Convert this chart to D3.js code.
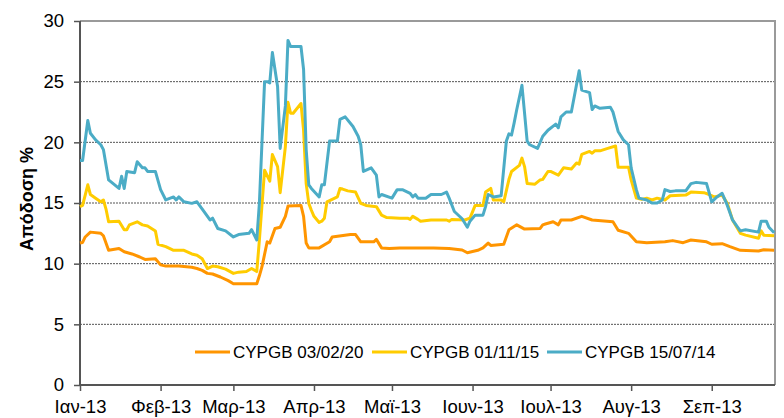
<!DOCTYPE html>
<html>
<head>
<meta charset="utf-8">
<script src="https://cdn.jsdelivr.net/npm/d3@7"></script>
<style>
  body { margin: 0; background: #fff; }
  text { font-family: "Liberation Sans", Arial, sans-serif; fill: #000; }
</style>
</head>
<body>
<svg></svg>
<script>
// series names + colours (legend order)
const seriesNames = ["CYPGB 03/02/20", "CYPGB 01/11/15", "CYPGB 15/07/14"];
const seriesColors = ["#ff9500", "#ffcc00", "#4bacc6"];

// x tick labels (one per month start)
const monthLabels = ["Ιαν-13", "Φεβ-13", "Μαρ-13", "Απρ-13", "Μαϊ-13", "Ιουν-13", "Ιουλ-13", "Αυγ-13", "Σεπ-13"];
const yTicks = [0, 5, 10, 15, 20, 25, 30];

// yields
const bond2020 = [
  ["2013-01-01", 11.7], ["2013-01-02", 11.75], ["2013-01-03", 12.2], ["2013-01-05", 12.6], ["2013-01-09", 12.5],
  ["2013-01-10", 12.3], ["2013-01-12", 11.1], ["2013-01-16", 11.25], ["2013-01-18", 10.98], ["2013-01-21", 10.8],
  ["2013-01-24", 10.55], ["2013-01-26", 10.35], ["2013-01-30", 10.4], ["2013-02-01", 9.9], ["2013-02-03", 9.8],
  ["2013-02-08", 9.8], ["2013-02-13", 9.7], ["2013-02-15", 9.6], ["2013-02-17", 9.45], ["2013-02-19", 9.2],
  ["2013-02-21", 9.15], ["2013-02-24", 8.9], ["2013-02-27", 8.6], ["2013-03-01", 8.35], ["2013-03-07", 8.35],
  ["2013-03-10", 8.35], ["2013-03-11", 9.0], ["2013-03-12", 9.75], ["2013-03-14", 11.8], ["2013-03-15", 11.7],
  ["2013-03-17", 12.9], ["2013-03-19", 13.0], ["2013-03-21", 13.9], ["2013-03-22", 14.75], ["2013-03-27", 14.8],
  ["2013-03-28", 13.9], ["2013-03-29", 11.7], ["2013-03-30", 11.3], ["2013-04-03", 11.3], ["2013-04-07", 11.8],
  ["2013-04-08", 12.2], ["2013-04-15", 12.4], ["2013-04-17", 12.4], ["2013-04-19", 11.8], ["2013-04-24", 11.8],
  ["2013-04-25", 12.0], ["2013-04-27", 11.3], ["2013-04-30", 11.25], ["2013-05-04", 11.3], ["2013-05-17", 11.3],
  ["2013-05-23", 11.25], ["2013-05-28", 11.13], ["2013-05-30", 10.9], ["2013-06-03", 11.1], ["2013-06-05", 11.3],
  ["2013-06-07", 11.7], ["2013-06-08", 11.5], ["2013-06-13", 11.6], ["2013-06-15", 12.8], ["2013-06-18", 13.2],
  ["2013-06-21", 12.85], ["2013-06-27", 12.9], ["2013-06-28", 13.2], ["2013-06-29", 13.27], ["2013-07-02", 13.45],
  ["2013-07-04", 13.2], ["2013-07-05", 13.6], ["2013-07-09", 13.6], ["2013-07-13", 13.9], ["2013-07-17", 13.6],
  ["2013-07-25", 13.45], ["2013-07-27", 12.75], ["2013-07-31", 12.5], ["2013-08-03", 11.8], ["2013-08-07", 11.73],
  ["2013-08-14", 11.8], ["2013-08-17", 11.9], ["2013-08-21", 11.73], ["2013-08-24", 11.95], ["2013-08-30", 11.8],
  ["2013-09-01", 11.6], ["2013-09-05", 11.65], ["2013-09-08", 11.4], ["2013-09-12", 11.1], ["2013-09-19", 11.05],
  ["2013-09-21", 11.15], ["2013-09-25", 11.1]
];

const bond2015 = [
  ["2013-01-01", 14.7], ["2013-01-02", 14.8], ["2013-01-04", 16.5], ["2013-01-05", 15.7], ["2013-01-07", 15.4],
  ["2013-01-09", 15.1], ["2013-01-10", 15.25], ["2013-01-11", 14.5], ["2013-01-12", 13.45], ["2013-01-16", 13.5],
  ["2013-01-18", 12.8], ["2013-01-19", 12.8], ["2013-01-20", 13.2], ["2013-01-23", 13.45], ["2013-01-25", 13.2],
  ["2013-01-27", 13.1], ["2013-01-30", 12.7], ["2013-01-31", 11.6], ["2013-02-03", 11.4], ["2013-02-06", 11.1],
  ["2013-02-10", 11.1], ["2013-02-13", 10.8], ["2013-02-15", 10.7], ["2013-02-17", 10.4], ["2013-02-19", 9.6],
  ["2013-02-21", 9.8], ["2013-02-23", 9.75], ["2013-02-26", 9.55], ["2013-03-01", 9.2], ["2013-03-03", 9.3],
  ["2013-03-06", 9.35], ["2013-03-08", 9.6], ["2013-03-10", 9.35], ["2013-03-11", 11.95], ["2013-03-13", 17.7],
  ["2013-03-15", 16.8], ["2013-03-16", 19.0], ["2013-03-18", 18.0], ["2013-03-19", 15.85], ["2013-03-21", 19.65],
  ["2013-03-22", 23.3], ["2013-03-23", 22.4], ["2013-03-24", 22.4], ["2013-03-27", 23.2], ["2013-03-28", 21.0],
  ["2013-03-29", 16.6], ["2013-03-30", 14.97], ["2013-03-31", 14.4], ["2013-04-01", 13.9], ["2013-04-03", 13.4],
  ["2013-04-04", 13.5], ["2013-04-05", 13.75], ["2013-04-06", 15.1], ["2013-04-09", 15.4], ["2013-04-10", 15.5],
  ["2013-04-11", 16.2], ["2013-04-12", 16.15], ["2013-04-14", 16.0], ["2013-04-17", 15.9], ["2013-04-19", 14.97],
  ["2013-04-21", 14.8], ["2013-04-25", 14.7], ["2013-04-27", 14.0], ["2013-04-29", 13.8], ["2013-05-04", 13.75],
  ["2013-05-07", 13.75], ["2013-05-08", 13.65], ["2013-05-09", 13.9], ["2013-05-11", 13.65], ["2013-05-12", 13.5],
  ["2013-05-16", 13.6], ["2013-05-22", 13.6], ["2013-05-23", 13.5], ["2013-05-24", 13.65], ["2013-05-29", 13.6],
  ["2013-05-31", 13.75], ["2013-06-02", 14.8], ["2013-06-05", 14.8], ["2013-06-06", 15.9], ["2013-06-08", 16.2],
  ["2013-06-09", 15.25], ["2013-06-12", 15.25], ["2013-06-13", 15.1], ["2013-06-15", 16.95], ["2013-06-16", 17.6],
  ["2013-06-19", 18.1], ["2013-06-20", 18.7], ["2013-06-21", 18.0], ["2013-06-22", 16.6], ["2013-06-25", 16.55],
  ["2013-06-27", 16.9], ["2013-06-28", 16.95], ["2013-06-30", 17.6], ["2013-07-01", 17.6], ["2013-07-04", 17.3],
  ["2013-07-06", 17.9], ["2013-07-09", 17.8], ["2013-07-11", 18.3], ["2013-07-12", 18.2], ["2013-07-13", 19.0],
  ["2013-07-16", 19.25], ["2013-07-17", 19.1], ["2013-07-18", 19.3], ["2013-07-20", 19.3], ["2013-07-23", 19.5],
  ["2013-07-26", 19.7], ["2013-07-27", 17.95], ["2013-07-31", 17.95], ["2013-08-01", 16.9], ["2013-08-03", 15.4],
  ["2013-08-05", 15.3], ["2013-08-07", 15.4], ["2013-08-09", 15.25], ["2013-08-11", 15.4], ["2013-08-14", 15.25],
  ["2013-08-16", 15.6], ["2013-08-22", 15.65], ["2013-08-24", 15.9], ["2013-08-29", 15.85], ["2013-08-31", 15.7],
  ["2013-09-02", 15.5], ["2013-09-05", 15.65], ["2013-09-07", 14.97], ["2013-09-09", 13.6], ["2013-09-12", 12.5],
  ["2013-09-14", 12.35], ["2013-09-19", 12.1], ["2013-09-20", 12.7], ["2013-09-21", 12.35], ["2013-09-25", 12.3]
];

const bond2014 = [
  ["2013-01-01", 18.5], ["2013-01-02", 18.5], ["2013-01-04", 21.8], ["2013-01-05", 20.75], ["2013-01-07", 20.2],
  ["2013-01-09", 19.8], ["2013-01-10", 19.4], ["2013-01-12", 16.9], ["2013-01-16", 16.2], ["2013-01-17", 17.2],
  ["2013-01-18", 16.2], ["2013-01-19", 17.6], ["2013-01-22", 17.5], ["2013-01-23", 18.4], ["2013-01-25", 17.9],
  ["2013-01-26", 17.9], ["2013-01-27", 17.6], ["2013-01-30", 17.6], ["2013-02-01", 16.1], ["2013-02-03", 15.25],
  ["2013-02-06", 15.5], ["2013-02-07", 15.25], ["2013-02-08", 15.5], ["2013-02-10", 15.1], ["2013-02-13", 14.97],
  ["2013-02-15", 15.1], ["2013-02-18", 14.2], ["2013-02-20", 13.6], ["2013-02-21", 13.75], ["2013-02-23", 12.9],
  ["2013-02-26", 12.7], ["2013-03-01", 12.2], ["2013-03-03", 12.4], ["2013-03-07", 12.5], ["2013-03-08", 12.8],
  ["2013-03-10", 11.95], ["2013-03-11", 15.0], ["2013-03-13", 25.0], ["2013-03-14", 25.0], ["2013-03-15", 24.9],
  ["2013-03-16", 27.4], ["2013-03-18", 24.6], ["2013-03-19", 19.5], ["2013-03-21", 23.0], ["2013-03-22", 28.4],
  ["2013-03-23", 27.9], ["2013-03-27", 27.9], ["2013-03-28", 26.0], ["2013-03-29", 19.4], ["2013-03-30", 16.5],
  ["2013-03-31", 16.2], ["2013-04-03", 15.5], ["2013-04-04", 16.5], ["2013-04-05", 16.5], ["2013-04-07", 20.1],
  ["2013-04-10", 20.1], ["2013-04-11", 21.9], ["2013-04-13", 22.1], ["2013-04-16", 21.3], ["2013-04-18", 20.5],
  ["2013-04-19", 19.8], ["2013-04-20", 17.6], ["2013-04-23", 17.9], ["2013-04-25", 17.3], ["2013-04-26", 15.5],
  ["2013-04-27", 15.7], ["2013-05-01", 15.4], ["2013-05-03", 16.1], ["2013-05-05", 16.1], ["2013-05-08", 15.8],
  ["2013-05-09", 15.5], ["2013-05-10", 15.7], ["2013-05-11", 15.4], ["2013-05-14", 15.4], ["2013-05-16", 15.7],
  ["2013-05-18", 15.7], ["2013-05-20", 15.7], ["2013-05-22", 15.9], ["2013-05-23", 15.4], ["2013-05-25", 14.3],
  ["2013-05-28", 13.7], ["2013-05-30", 13.0], ["2013-05-31", 13.5], ["2013-06-02", 14.0], ["2013-06-05", 14.0],
  ["2013-06-06", 14.7], ["2013-06-07", 15.7], ["2013-06-09", 15.5], ["2013-06-12", 15.6], ["2013-06-14", 20.1],
  ["2013-06-15", 20.7], ["2013-06-16", 20.6], ["2013-06-17", 21.6], ["2013-06-18", 22.7], ["2013-06-20", 24.7],
  ["2013-06-21", 22.4], ["2013-06-22", 20.1], ["2013-06-23", 19.8], ["2013-06-26", 19.5], ["2013-06-28", 20.5],
  ["2013-06-30", 21.0], ["2013-07-03", 21.5], ["2013-07-04", 21.2], ["2013-07-05", 22.1], ["2013-07-07", 22.5],
  ["2013-07-09", 22.5], ["2013-07-12", 25.9], ["2013-07-13", 24.3], ["2013-07-16", 24.1], ["2013-07-17", 22.7],
  ["2013-07-18", 23.0], ["2013-07-20", 22.8], ["2013-07-24", 22.9], ["2013-07-25", 22.5], ["2013-07-27", 20.9],
  ["2013-07-29", 20.2], ["2013-07-31", 19.8], ["2013-08-01", 17.9], ["2013-08-03", 16.1], ["2013-08-04", 15.4],
  ["2013-08-07", 15.25], ["2013-08-09", 15.0], ["2013-08-11", 15.0], ["2013-08-13", 15.25], ["2013-08-14", 16.1],
  ["2013-08-16", 15.95], ["2013-08-18", 16.0], ["2013-08-22", 16.0], ["2013-08-24", 16.6], ["2013-08-26", 16.7],
  ["2013-08-30", 16.6], ["2013-09-01", 15.1], ["2013-09-03", 15.5], ["2013-09-05", 15.8], ["2013-09-07", 14.8],
  ["2013-09-09", 13.6], ["2013-09-11", 13.0], ["2013-09-12", 12.7], ["2013-09-14", 12.8], ["2013-09-19", 12.6],
  ["2013-09-20", 13.5], ["2013-09-22", 13.5], ["2013-09-23", 13.0], ["2013-09-25", 12.55]
];

const width = 784, height = 418;
const plot = { left: 80, right: 775, top: 21, bottom: 385 };
const parse = d3.timeParse("%Y-%m-%d");

const svg = d3.select("svg")
    .attr("width", width)
    .attr("height", height);

const x = d3.scaleTime()
    .domain([parse("2013-01-01"), new Date(2013, 8, 25, 8)])
    .range([plot.left, plot.right]);

const y = d3.scaleLinear()
    .domain([0, 30])
    .range([plot.bottom, plot.top]);

// dotted gridlines
svg.append("g")
    .selectAll("line")
    .data(yTicks.filter(t => t > 0 && t < 30))
    .enter().append("line")
    .attr("x1", plot.left).attr("x2", plot.right)
    .attr("y1", d => y(d)).attr("y2", d => y(d))
    .attr("stroke", "#555")
    .attr("stroke-width", 1)
    .attr("stroke-dasharray", "2,1");

// top + right frame
svg.append("path")
    .attr("d", `M${plot.left},${y(30)}H${plot.right}V${plot.bottom}`)
    .attr("fill", "none")
    .attr("stroke", "#9a9a9a")
    .attr("stroke-width", 2);

// y axis
const yAxis = svg.append("g")
    .attr("transform", `translate(${plot.left},0)`)
    .call(d3.axisLeft(y).tickValues(yTicks).tickSize(6).tickPadding(10));
yAxis.selectAll("text").style("font-size", "18.5px").attr("fill", "#000");

// x axis
const monthStarts = d3.timeMonth.range(parse("2013-01-01"), parse("2013-09-02"));
const xAxis = svg.append("g")
    .attr("transform", `translate(0,${plot.bottom})`)
    .call(d3.axisBottom(x).tickValues(monthStarts).tickSize(6).tickPadding(9)
        .tickFormat((d, i) => monthLabels[i]));
xAxis.selectAll("text").style("font-size", "18.5px").attr("fill", "#000");

svg.selectAll(".domain").attr("stroke", "#555").attr("stroke-width", 2);
svg.selectAll(".tick line").attr("stroke", "#555").attr("stroke-width", 1.5);
yAxis.select(".domain").attr("d", `M0,${plot.bottom}V${plot.top}`);
xAxis.select(".domain").attr("d", `M${plot.left},0H${plot.right}`);

// y title
svg.append("text")
    .attr("transform", `translate(33,${(plot.top + plot.bottom) / 2 - 4}) rotate(-90)`)
    .attr("text-anchor", "middle")
    .style("font-size", "18px")
    .style("font-weight", "bold")
    .text("Απόδοση %");

// lines
const line = d3.line()
    .x(d => x(parse(d[0])))
    .y(d => y(d[1]));

const allSeries = [bond2020, bond2015, bond2014];
svg.append("g")
    .selectAll("path")
    .data(allSeries)
    .enter().append("path")
    .attr("d", line)
    .attr("fill", "none")
    .attr("stroke", (d, i) => seriesColors[i])
    .attr("stroke-width", 3)
    .attr("stroke-linejoin", "round");

// legend
const legendX = [195, 372, 547];
const legend = svg.append("g")
    .selectAll("g")
    .data(seriesNames)
    .enter().append("g")
    .attr("transform", (d, i) => `translate(${legendX[i]},352)`);
legend.append("line")
    .attr("x1", 0).attr("x2", 35)
    .attr("stroke", (d, i) => seriesColors[i])
    .attr("stroke-width", 3);
legend.append("text")
    .attr("x", 38)
    .attr("dy", "0.35em")
    .style("font-size", "17px")
    .text(d => d);
</script>
</body>
</html>
